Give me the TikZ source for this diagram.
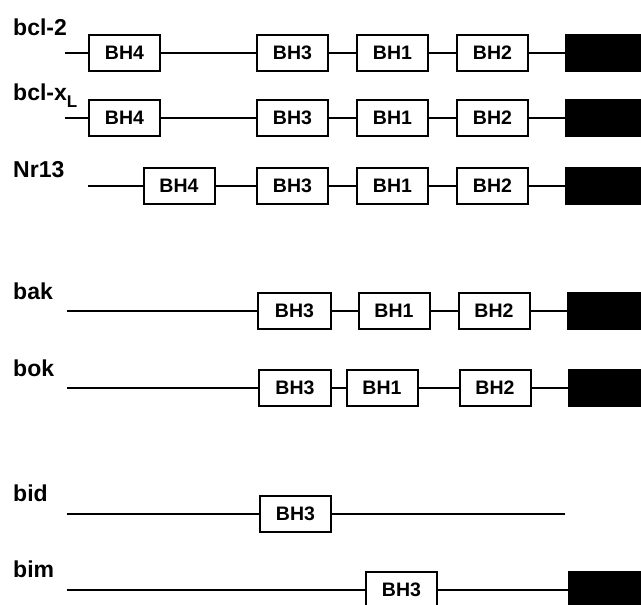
\documentclass[tikz,border=0pt]{standalone}
\usepackage{fontspec}
\setmainfont{Liberation Sans}
\begin{document}
\begin{tikzpicture}[x=1pt,y=-1pt,
  dom/.style={draw=black, line width=2pt, fill=white, inner sep=0pt,
    minimum height=36pt, minimum width=71pt,
    font=\fontsize{19.5}{20}\selectfont\bfseries},
  blk/.style={fill=black, draw=none, inner sep=0pt, minimum height=38pt},
  lab/.style={anchor=base west, inner sep=0pt,
    font=\fontsize{23}{24}\selectfont\bfseries},
  ln/.style={line width=2pt}]
\useasboundingbox (0,0) rectangle (641,605);

% labels
\node[lab] (l1) at (13,35) {bcl-2};
\node[lab] (l2) at (13,100) {bcl-x\raisebox{-7pt}{\fontsize{17}{17}\selectfont L}};
\node[lab] (l3) at (13,177) {Nr13};
\node[lab] (l4) at (13,299) {bak};
\node[lab] (l5) at (13,376) {bok};
\node[lab] (l6) at (13,501) {bid};
\node[lab] (l7) at (13,577) {bim};

% row 1: bcl-2
\coordinate (s1) at (65,52.5);
\node[dom] (a4) at (124.5,52.5) {BH4};
\node[dom] (a3) at (292.5,52.5) {BH3};
\node[dom] (a1) at (392.5,52.5) {BH1};
\node[dom] (a2) at (492.5,52.5) {BH2};
\node[blk, minimum width=76pt] (ab) at (603,52.5) {};
\draw[ln] (s1) -- (a4) -- (a3) -- (a1) -- (a2) -- (ab);

% row 2: bcl-xL
\coordinate (s2) at (65,118);
\node[dom] (b4) at (124.5,118) {BH4};
\node[dom] (b3) at (292.5,118) {BH3};
\node[dom] (b1) at (392.5,118) {BH1};
\node[dom] (b2) at (492.5,118) {BH2};
\node[blk, minimum width=76pt] (bb) at (603,118) {};
\draw[ln] (s2) -- (b4) -- (b3) -- (b1) -- (b2) -- (bb);

% row 3: Nr13
\coordinate (s3) at (88,186);
\node[dom] (c4) at (179,186) {BH4};
\node[dom] (c3) at (292.5,186) {BH3};
\node[dom] (c1) at (392.5,186) {BH1};
\node[dom] (c2) at (492.5,186) {BH2};
\node[blk, minimum width=76pt] (cb) at (603,186) {};
\draw[ln] (s3) -- (c4) -- (c3) -- (c1) -- (c2) -- (cb);

% row 4: bak
\coordinate (s4) at (67,311);
\node[dom, minimum width=73pt] (d3) at (294.5,311) {BH3};
\node[dom] (d1) at (394,311) {BH1};
\node[dom] (d2) at (494,311) {BH2};
\node[blk, minimum width=74pt] (db) at (604,311) {};
\draw[ln] (s4) -- (d3) -- (d1) -- (d2) -- (db);

% row 5: bok
\coordinate (s5) at (67,388);
\node[dom, minimum width=72pt] (e3) at (295,388) {BH3};
\node[dom] (e1) at (382,388) {BH1};
\node[dom] (e2) at (495,388) {BH2};
\node[blk, minimum width=73pt] (eb) at (604.5,388) {};
\draw[ln] (s5) -- (e3) -- (e1) -- (e2) -- (eb);

% row 6: bid
\coordinate (s6) at (67,514);
\coordinate (t6) at (565,514);
\node[dom] (f3) at (295.5,514) {BH3};
\draw[ln] (s6) -- (f3) -- (t6);

% row 7: bim
\coordinate (s7) at (67,590);
\node[dom] (g3) at (401.5,590) {BH3};
\node[blk, minimum width=73pt] (gb) at (604.5,590) {};
\draw[ln] (s7) -- (g3) -- (gb);
\end{tikzpicture}
\end{document}
